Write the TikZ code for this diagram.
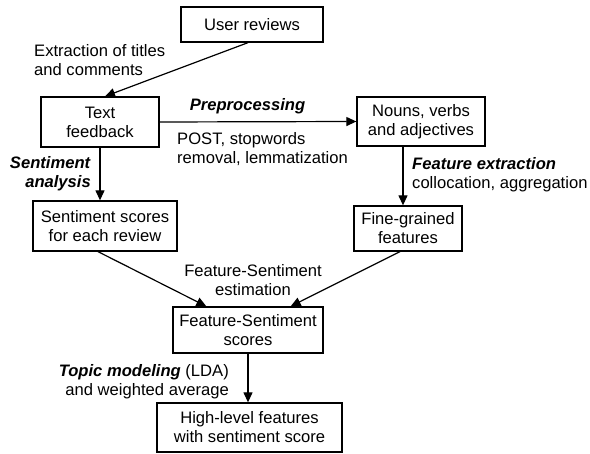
\documentclass[tikz,border=0pt]{standalone}
\usepackage{fontspec}
\setmainfont{Liberation Sans}
\usetikzlibrary{arrows.meta}
\begin{document}
\begin{tikzpicture}[x=1pt,y=-1pt,
  every node/.style={font=\fontsize{16.6}{19}\selectfont},
  box/.style={draw,line width=1.3pt,inner sep=0pt,align=center},
  lbl/.style={inner sep=0pt},
  arr/.style={line width=1.2pt,-{Triangle[length=10pt,width=9pt]}}]
\useasboundingbox (0,0) rectangle (590,454);
% boxes
\node[box,minimum width=142,minimum height=35] (ur) at (252,24.5) {User reviews};
\node[box,minimum width=118,minimum height=50] (tf) at (100,122) {Text\\feedback};
\node[box,minimum width=128,minimum height=49] (nv) at (421,121.5) {Nouns, verbs\\and adjectives};
\node[box,minimum width=144,minimum height=50] (ss) at (105,226) {Sentiment scores\\for each review};
\node[box,minimum width=108,minimum height=45] (fg) at (408,228.5) {Fine-grained\\features};
\node[box,minimum width=150,minimum height=46] (fs) at (248,330) {Feature-Sentiment\\scores};
\node[box,minimum width=185,minimum height=49] (hl) at (249.5,427.5) {High-level features\\with sentiment score};
% labels
\node[lbl,anchor=west,align=left] (l1) at (34,60) {Extraction of titles\\and comments};
\node[lbl] (l2) at (247.5,106) {\textbf{\textit{Preprocessing}}};
\node[lbl,anchor=west,align=left] (l3) at (177,149) {POST, stopwords\\removal, lemmatization};
\node[lbl,anchor=east,align=right] (l4) at (91,174) {\textbf{\textit{Sentiment}}\\\textbf{\textit{analysis}}};
\node[lbl,anchor=west,align=left] (l5) at (412,175) {\textbf{\textit{Feature extraction}}\\collocation, aggregation};
\node[lbl,align=center] (l6) at (253,280) {Feature-Sentiment\\estimation};
\node[lbl,anchor=east,align=right] (l7) at (229,382) {\textbf{\textit{Topic modeling}} (LDA)\\and weighted average};
% connectors
\draw[arr] ([xshift=-4pt]ur.south) -- ([xshift=5pt]tf.north);
\draw[arr] (tf.east) -- (nv.west);
\draw[arr] (tf.south) -- (tf.south |- ss.north);
\draw[arr] ([xshift=-5pt]fg.north |- nv.south) -- ([xshift=-5pt]fg.north);
\draw[arr] ([xshift=-7pt]ss.south) -- ([xshift=34pt]fs.north west);
\draw[arr] ([xshift=-8pt]fg.south) -- ([xshift=-33pt]fs.north east);
\draw[arr] (fs.south) -- (fs.south |- hl.north);
\end{tikzpicture}
\end{document}
